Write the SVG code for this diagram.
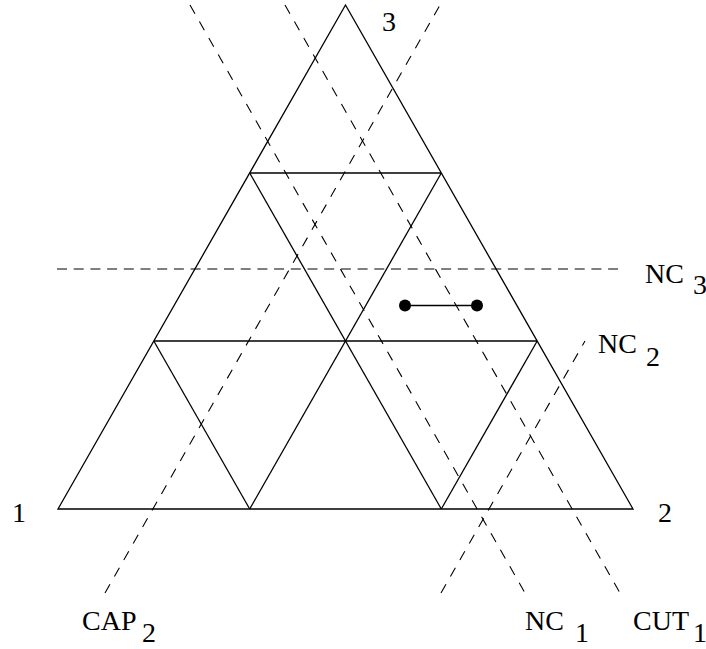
<svg xmlns="http://www.w3.org/2000/svg" width="706" height="649" viewBox="0 0 706 649">
<style>
.s{stroke:#000;stroke-width:1.3;fill:none}
.d{stroke:#000;stroke-width:1.1;fill:none;stroke-dasharray:10 9}
.h{stroke-dasharray:10 6.7}
text{font-family:"Liberation Serif","Times New Roman",serif;font-size:28px;fill:#000}
</style>
<rect width="706" height="649" fill="#fff"/>
<g id="grid">
<polygon class="s" points="58,509 633,509 345.5,5"/>
<line class="s" x1="249.7" y1="173" x2="441.3" y2="173"/>
<line class="s" x1="153.8" y1="341" x2="537.2" y2="341"/>
<polyline class="s" points="249.7,173 441.3,509"/>
<polyline class="s" points="153.8,341 249.7,509"/>
<polyline class="s" points="441.3,173 249.7,509"/>
<polyline class="s" points="537.2,341 441.3,509"/>
</g>
<g id="connectors">
<line class="d h" x1="57" y1="269" x2="624" y2="269"/>
<line class="d" x1="105" y1="593" x2="440" y2="5"/>
<line class="d" x1="190" y1="5" x2="525" y2="593"/>
<line class="d" x1="285" y1="5" x2="620" y2="593"/>
<line class="d" x1="441" y1="593" x2="585" y2="341"/>
</g>
<g id="edge">
<line class="s" x1="405" y1="305.5" x2="477" y2="305.5"/>
<circle cx="405" cy="305.5" r="6" fill="#000"/>
<circle cx="477" cy="305.5" r="6" fill="#000"/>
</g>
<g id="labels">
<text x="382" y="31">3</text>
<text x="12" y="522">1</text>
<text x="658" y="522">2</text>
<text x="645" y="283">NC</text><text x="693" y="294">3</text>
<text x="598" y="353">NC</text><text x="646" y="366">2</text>
<text x="82" y="630">CAP</text><text x="142" y="642">2</text>
<text x="525" y="630">NC</text><text x="575" y="642">1</text>
<text x="633" y="630">CUT</text><text x="693" y="642">1</text>
</g>
</svg>
